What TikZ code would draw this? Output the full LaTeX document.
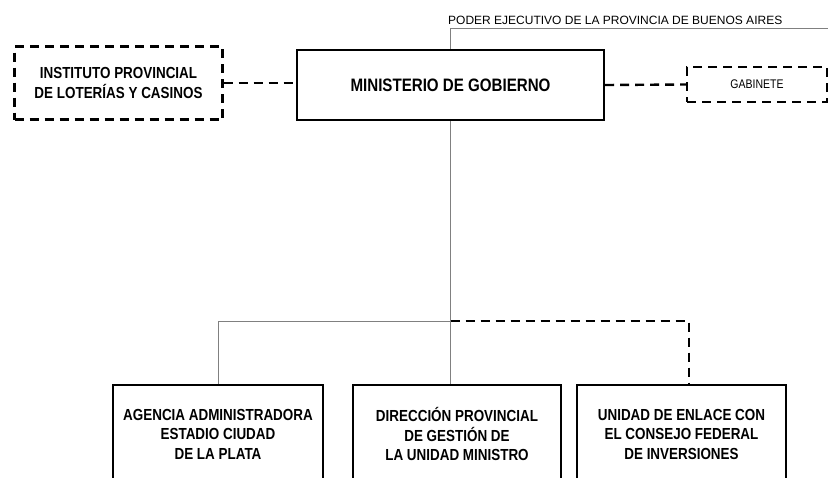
\documentclass[tikz,border=0pt]{standalone}
\usepackage{fontspec}
\setmainfont{Liberation Sans}
\newfontfamily\narrowfont[FakeStretch=0.84]{Liberation Sans}
\tikzset{
  orgbox/.style={draw,line width=2.4pt,align=center,inner sep=0pt,
    font=\narrowfont\bfseries\fontsize{16}{19.5}\selectfont},
  dashbox/.style={orgbox,dash pattern=on 9pt off 6pt},
  thinline/.style={draw=gray,line width=1pt},
  dashline/.style={line width=2.4pt,dash pattern=on 9pt off 6pt}
}
\begin{document}
\begin{tikzpicture}
    [x=1pt,y=-1pt]
    \useasboundingbox (0,0) rectangle (828,477);
    \clip (0,0) rectangle (828,477);
    \node (poder) at (448,24) [anchor=base west,inner sep=0pt,font=\fontsize{12}{14}\selectfont]
      {PODER EJECUTIVO DE LA PROVINCIA DE BUENOS AIRES};
    \node (ministerio) at (450.5,85) [orgbox,minimum width=307pt,minimum height=70pt,
      font=\narrowfont\bfseries\fontsize{18}{21}\selectfont] {MINISTERIO DE GOBIERNO};
    \node (instituto) at (118.5,83) [dashbox,minimum width=208pt,minimum height=73pt]
      {INSTITUTO PROVINCIAL\\DE LOTERÍAS Y CASINOS};
    \node (gabinete) at (757,84.5) [dashbox,minimum width=140pt,minimum height=35pt,
      font=\narrowfont\fontsize{12.5}{14}\selectfont] {GABINETE};
    \node (agencia) at (218,434) [orgbox,minimum width=210pt,minimum height=98pt]
      {AGENCIA ADMINISTRADORA\\ESTADIO CIUDAD\\DE LA PLATA};
    \node (direccion) at (457,434) [orgbox,minimum width=208pt,minimum height=98pt]
      {DIRECCIÓN PROVINCIAL\\DE GESTIÓN DE\\LA UNIDAD MINISTRO};
    \node (unidad) at (681.5,434) [orgbox,minimum width=209pt,minimum height=98pt]
      {UNIDAD DE ENLACE CON\\EL CONSEJO FEDERAL\\DE INVERSIONES};
    \coordinate (edge) at (830,28);
    \coordinate (split) at (450.5,321);
    \draw [thinline] (ministerio.north) |- (edge);
    \draw [dashline] (instituto.east) -- (instituto.east -| ministerio.west);
    \draw [dashline] (ministerio.east) -- (gabinete.west);
    \draw [thinline] (ministerio.south) -- (ministerio.south |- direccion.north);
    \draw [thinline] (split) -| (agencia.north);
    \draw [dashline] (split) -| ([xshift=7.5pt]unidad.north);
  \end{tikzpicture}
\end{document}
